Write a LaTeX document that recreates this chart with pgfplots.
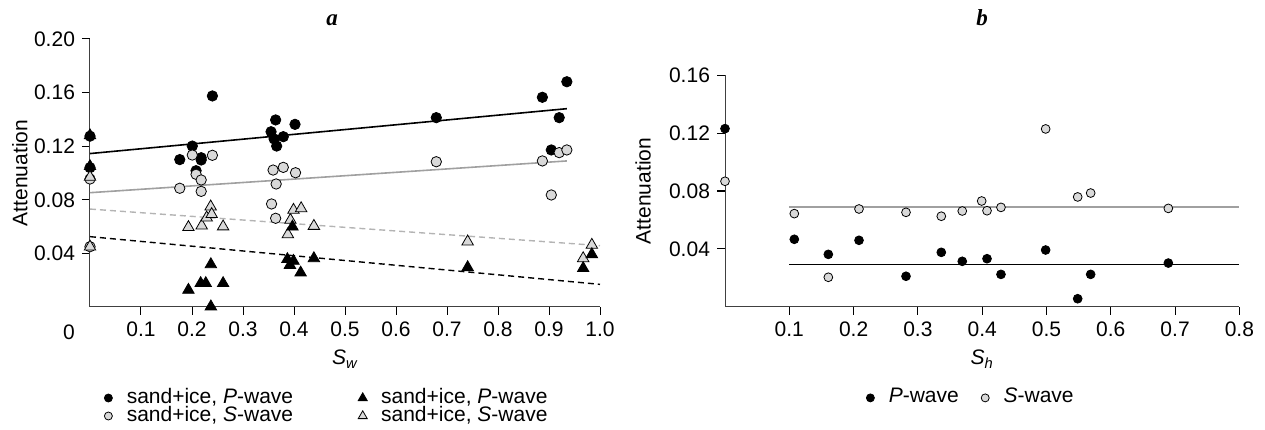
\documentclass[border=0pt]{standalone}
\usepackage{pgfplots}
\pgfplotsset{compat=1.18}
\usepackage{fontspec}
\setmainfont{Liberation Sans}
\newfontfamily\seriffont{Liberation Serif}
\definecolor{lg}{HTML}{D9D9D9}
\definecolor{lgline}{HTML}{A0A0A0}
\definecolor{lgdash}{HTML}{B4B4B4}
\newcommand{\fs}{\fontsize{10.5}{12.5}\selectfont}
\pgfplotsset{
  mystyle/.style={
    scale only axis, axis lines=left, axis line style={-, black!75, line width=0.5pt},
    tick align=outside, major tick length=4pt, tick style={black, line width=0.5pt},
    ticklabel style={font=\fs},
    /pgf/number format/assume math mode=true,
    clip=false,
    label style={font=\fs},
    legend style={draw=none, fill=none, inner sep=0pt, outer sep=0pt,
      font=\fs,
      nodes={inner sep=0pt, text height=7pt, text depth=2pt}},
    legend cell align=left,
    legend image code/.code={\path (-3pt,0) (9pt,0); \draw[##1] plot coordinates {(0pt,0pt)};},
  },
  bc/.style={only marks, mark=*, mark size=2.6pt, mark options={draw=black, fill=black, line width=0.4pt}},
  gc/.style={only marks, mark=*, mark size=2.6pt, mark options={draw=black, fill=lg, line width=0.4pt}},
  bt/.style={only marks, mark=triangle*, mark size=3.3pt, mark options={draw=black, fill=black, line width=0.4pt}},
  gt/.style={only marks, mark=triangle*, mark size=3.3pt, mark options={draw=black, fill=lg, line width=0.4pt}},
}
\begin{document}
\begin{tikzpicture}
\useasboundingbox (0,0) rectangle (632.5pt,214.5pt);
% ---------------- panel a ----------------
\begin{axis}[mystyle, at={(45pt,61pt)}, anchor=south west, width=255pt, height=134pt,
  xmin=0, xmax=1, ymin=0, ymax=0.2,
  xtick={0.1,0.2,0.3,0.4,0.5,0.6,0.7,0.8,0.9,1.0},
  xticklabels={0.1,0.2,0.3,0.4,0.5,0.6,0.7,0.8,0.9,1.0},
  ytick={0.04,0.08,0.12,0.16,0.20},
  yticklabels={0.04,0.08,0.12,0.16,0.20},
  xlabel={\itshape S\textsubscript{w}},
  ylabel={Attenuation},
  xlabel style={at={(axis description cs:0.5,-0.2164)}, anchor=base},
  ylabel style={at={(axis description cs:-0.1373,0.5)}, anchor=center},
  legend columns=2,
  legend style={at={(axis description cs:0.0235,-0.306)}, anchor=north west,
    /tikz/every even column/.append style={column sep=31.6pt}},
]
\addlegendimage{bc, mark size=2pt}
\addlegendentry{sand+ice, \textit{P}-wave}
\addlegendimage{bt, mark size=2.6pt}
\addlegendentry{sand+ice, \textit{P}-wave}
\addlegendimage{gc, mark size=2pt}
\addlegendentry{sand+ice, \textit{S}-wave}
\addlegendimage{gt, mark size=2.6pt}
\addlegendentry{sand+ice, \textit{S}-wave}
% regression lines
\addplot[forget plot, black, line width=0.8pt] coordinates {(0,0.1145) (0.935,0.148)};
\addplot[forget plot, lgline, line width=0.8pt] coordinates {(0,0.0853) (0.935,0.109)};
\addplot[forget plot, lgdash, line width=0.7pt, dash pattern=on 3pt off 2pt] coordinates {(0,0.0731) (1.0,0.0458)};
\addplot[forget plot, black, line width=0.7pt, dash pattern=on 3pt off 2pt] coordinates {(0,0.0525) (1.0,0.0169)};
% black circles: sand+ice, P-wave
\addplot[forget plot, bc] coordinates {
(0,0.1275) (0,0.104) (0.176,0.110) (0.2006,0.1201) (0.208,0.1017) (0.218,0.1114)
(0.218,0.1097) (0.240,0.1575) (0.355,0.1308) (0.361,0.1254) (0.364,0.1396)
(0.366,0.1201) (0.379,0.1271) (0.402,0.1363) (0.679,0.1413) (0.887,0.1565)
(0.9045,0.1172) (0.920,0.1413) (0.935,0.1681)};
% gray circles: sand+ice, S-wave
\addplot[forget plot, gc] coordinates {
(0,0.0955) (0,0.045) (0.176,0.0886) (0.2006,0.1134) (0.208,0.099) (0.218,0.0948)
(0.218,0.0863) (0.240,0.1132) (0.356,0.0769) (0.359,0.1022) (0.364,0.0662)
(0.365,0.0918) (0.379,0.1042) (0.403,0.1002) (0.679,0.1084) (0.887,0.109)
(0.9045,0.0836) (0.920,0.1152) (0.935,0.1172)};
% gray triangles
\addplot[forget plot, gt] coordinates {
(0,0.097) (0,0.045) (0.193,0.0595) (0.219,0.0607) (0.2287,0.0667) (0.2366,0.0749)
(0.2386,0.0692) (0.261,0.060) (0.388,0.0542) (0.393,0.0649) (0.399,0.0724)
(0.414,0.0736) (0.439,0.0604) (0.7405,0.0488) (0.967,0.0363) (0.984,0.0463)};
% black triangles
\addplot[forget plot, bt] coordinates {
(0,0.128) (0,0.105) (0.193,0.0127) (0.217,0.0177) (0.227,0.0177) (0.237,0.0318)
(0.237,0.0003) (0.261,0.0177) (0.387,0.0356) (0.392,0.0313) (0.397,0.0599)
(0.399,0.0343) (0.413,0.0256) (0.439,0.0363) (0.7405,0.0296) (0.967,0.0289)
(0.984,0.0393)};
\end{axis}
\node[font=\fs] at (34.5pt,48.5pt) {0};
\node[font=\fontsize{11.5}{13}\selectfont\seriffont\bfseries\itshape] at (166pt,204.5pt) {a};
% ---------------- panel b ----------------
\begin{axis}[mystyle, at={(362.5pt,61pt)}, anchor=south west, width=257.2pt, height=116pt,
  xmin=0, xmax=0.8, ymin=0, ymax=0.16,
  xtick={0.1,0.2,0.3,0.4,0.5,0.6,0.7,0.8},
  xticklabels={0.1,0.2,0.3,0.4,0.5,0.6,0.7,0.8},
  ytick={0.04,0.08,0.12,0.16},
  yticklabels={0.04,0.08,0.12,0.16},
  xlabel={\itshape S\textsubscript{h}},
  ylabel={Attenuation},
  xlabel style={at={(axis description cs:0.5,-0.25)}, anchor=base},
  ylabel style={at={(axis description cs:-0.1594,0.5)}, anchor=center},
  legend columns=2,
  legend style={at={(axis description cs:0.2702,-0.353)}, anchor=north west,
    /tikz/every even column/.append style={column sep=10pt}},
]
\addlegendimage{bc, mark size=2pt}
\addlegendentry{\textit{P}-wave}
\addlegendimage{gc, mark size=2pt}
\addlegendentry{\textit{S}-wave}
\addplot[forget plot, lgline, line width=0.8pt] coordinates {(0.1,0.069) (0.8,0.069)};
\addplot[forget plot, black, line width=0.8pt] coordinates {(0.1,0.0294) (0.8,0.0294)};
\addplot[forget plot, bc, mark size=2.2pt] coordinates {
(0,0.123) (0.1078,0.0467) (0.1607,0.0363) (0.2084,0.046) (0.2815,0.0212)
(0.3364,0.0377) (0.369,0.0315) (0.4075,0.0333) (0.4292,0.0225) (0.4987,0.0393)
(0.5485,0.0057) (0.5687,0.0225) (0.6895,0.0303)};
\addplot[forget plot, gc, mark size=2.2pt] coordinates {
(0,0.0867) (0.1078,0.0644) (0.1607,0.0205) (0.2084,0.0676) (0.2815,0.0653)
(0.3364,0.0626) (0.369,0.0662) (0.3992,0.0731) (0.4075,0.0664) (0.4292,0.0687)
(0.4987,0.1228) (0.5485,0.0759) (0.5687,0.0786) (0.6895,0.068)};
\end{axis}
\node[font=\fontsize{11.5}{13}\selectfont\seriffont\bfseries\itshape] at (491pt,205.5pt) {b};
\end{tikzpicture}
\end{document}
